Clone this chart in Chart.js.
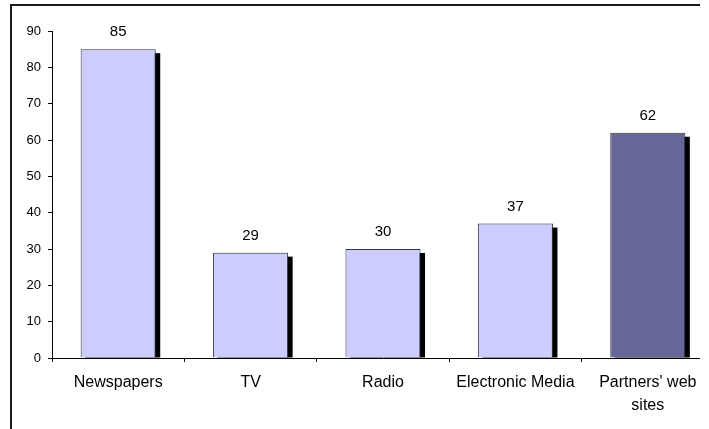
<!DOCTYPE html>
<html>
<head>
<meta charset="utf-8">
<script src="https://cdn.jsdelivr.net/npm/chart.js@4"></script>
<style>
  html, body { margin:0; padding:0; background:#fff; }
  #clip { position:absolute; left:0; top:0; width:700px; height:429px; overflow:hidden; }
  #frame { position:absolute; left:10px; top:4px; width:800px; height:500px; border-top:2px solid #1a1a1a; border-left:2px solid #1a1a1a; }
  #wrap { position:absolute; left:0; top:0; width:714px; height:429px; }
</style>
</head>
<body>
<div id="clip">
  <div id="frame"></div>
  <div id="wrap"><canvas id="c"></canvas></div>
</div>
<script>
const categories = ["Newspapers", "TV", "Radio", "Electronic Media", ["Partners' web", "sites"]];
const values = [85, 29, 30, 37, 62];
const barColors = ["#CCCCFF", "#CCCCFF", "#CCCCFF", "#CCCCFF", "#666699"];
const yMin = 0, yMax = 90, yStep = 10;

const shadowPlugin = {
  id: 'shadow',
  beforeDatasetsDraw(chart) {
    const ctx = chart.ctx, a = chart.chartArea;
    ctx.save();
    ctx.beginPath();
    ctx.rect(a.left, a.top - 30, a.right - a.left + 20, a.bottom - a.top + 30);
    ctx.clip();
    ctx.fillStyle = '#000';
    chart.getDatasetMeta(0).data.forEach(bar => {
      const p = bar.getProps(['x', 'y', 'width', 'base'], true);
      ctx.fillRect(p.x - p.width / 2 + 4.5, p.y + 4, p.width, p.base - p.y - 4);
    });
    ctx.restore();
  }
};

const labelPlugin = {
  id: 'valueLabels',
  afterDatasetsDraw(chart) {
    const ctx = chart.ctx;
    ctx.save();
    ctx.font = '15px "Liberation Sans", Arial, sans-serif';
    ctx.fillStyle = '#000';
    ctx.textAlign = 'center';
    ctx.textBaseline = 'middle';
    chart.getDatasetMeta(0).data.forEach((bar, i) => {
      ctx.fillText(String(values[i]), bar.x, bar.y - 17);
    });
    ctx.restore();
  }
};

new Chart(document.getElementById('c'), {
  type: 'bar',
  data: {
    labels: categories,
    datasets: [{
      data: values,
      backgroundColor: barColors,
      borderColor: '#333340',
      borderWidth: 1,
      borderSkipped: 'bottom',
      categoryPercentage: 1,
      barPercentage: 0.567
    }]
  },
  options: {
    responsive: true,
    maintainAspectRatio: false,
    animation: false,
    devicePixelRatio: 1,
    layout: { padding: { top: 31, left: 0, right: 0, bottom: 0 } },
    plugins: { legend: { display: false }, tooltip: { enabled: false } },
    scales: {
      x: {
        grid: { drawOnChartArea: false, offset: true, tickLength: 4, color: '#000', tickColor: '#000' },
        border: { color: '#000', width: 1 },
        ticks: { color: '#000', padding: 9, maxRotation: 0, autoSkip: false,
                 font: { family: '"Liberation Sans", Arial, sans-serif', size: 16, lineHeight: 1.45 } },
        afterFit(scale) { scale.height = 71; }
      },
      y: {
        min: yMin, max: yMax,
        grid: { drawOnChartArea: false, tickLength: 4, color: '#000', tickColor: '#000' },
        border: { color: '#000', width: 1 },
        ticks: { stepSize: yStep, color: '#000', padding: 7,
                 font: { family: '"Liberation Sans", Arial, sans-serif', size: 13 } },
        afterFit(scale) { scale.width = 52; }
      }
    }
  },
  plugins: [shadowPlugin, labelPlugin]
});
</script>
</body>
</html>
